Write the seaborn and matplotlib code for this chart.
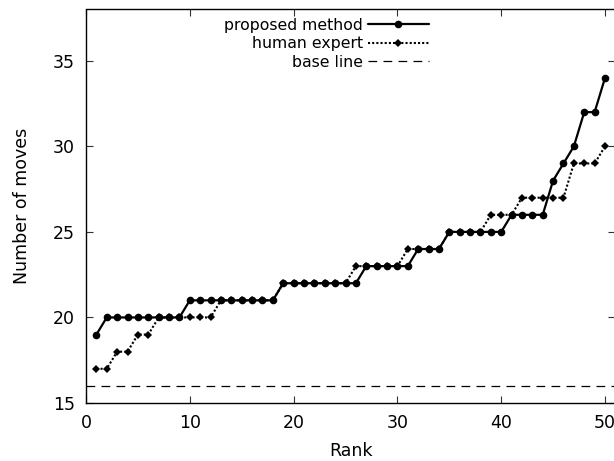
import numpy as np
import pandas as pd
import matplotlib
matplotlib.use("Agg")
import matplotlib.pyplot as plt
import seaborn as sns

rank = list(range(1, 51))
proposed = [19] + [20]*8 + [21]*9 + [22]*8 + [23]*5 + [24]*3 + [25]*6 + [26]*4 + [28, 29, 30, 32, 32, 34]
human = [17]*2 + [18]*2 + [19]*2 + [20]*6 + [21]*6 + [22]*7 + [23]*5 + [24]*4 + [25]*4 + [26]*3 + [27]*5 + [29]*3 + [30]
baseline = 16
labels = ["proposed method", "human expert", "base line"]

sns.set_style("ticks")
plt.rcParams['font.family'] = ['DejaVu Sans']
plt.rcParams['text.color'] = 'black'
plt.rcParams['axes.labelcolor'] = 'black'
plt.rcParams['xtick.color'] = 'black'
plt.rcParams['ytick.color'] = 'black'

fig = plt.figure(figsize=(6.14, 4.61), dpi=100)
W, H = 614, 461
x0, y0 = 86, 58
aw = 51*10.38
ah = 403-9.5
ax = fig.add_axes([x0/W, y0/H, aw/W, ah/H])

df = pd.DataFrame({"rank": rank, "proposed": proposed, "human": human})

sns.lineplot(data=df, x="rank", y="proposed", ax=ax, color="black", lw=1.6,
             marker="o", markersize=5.5, markeredgewidth=0, label=labels[0])
sns.lineplot(data=df, x="rank", y="human", ax=ax, color="black", lw=1.5,
             linestyle=(0, (1, 1)), marker="D", markersize=3.8, markeredgewidth=0,
             label=labels[1])
ax.axhline(baseline, color="black", lw=0.9, linestyle=(0, (7, 5)), label=labels[2])

ax.set_xlim(0, 51)
ax.set_ylim(15, 38)
ax.set_xticks([0, 10, 20, 30, 40, 50])
ax.set_yticks([15, 20, 25, 30, 35])
ax.tick_params(direction="in", length=5, width=0.8, labelsize=12.5, color="#333333",
               top=True, right=True)
ax.tick_params(axis="x", pad=8)
ax.tick_params(axis="y", pad=8)
for s in ax.spines.values():
    s.set_linewidth(1.0)
    s.set_color("black")
ax.set_xlabel("Rank", fontsize=12.5, labelpad=7)
ax.set_ylabel("Number of moves", fontsize=12.5, labelpad=16)

leg = ax.legend(loc="upper right", bbox_to_anchor=((435 - x0)/aw, 1.0 - 2/ah),
                frameon=False, markerfirst=False, fontsize=11.3, handlelength=3.9,
                handletextpad=0.3, labelspacing=0.22, borderaxespad=0.0)
fig.savefig("out.png", dpi=100)
